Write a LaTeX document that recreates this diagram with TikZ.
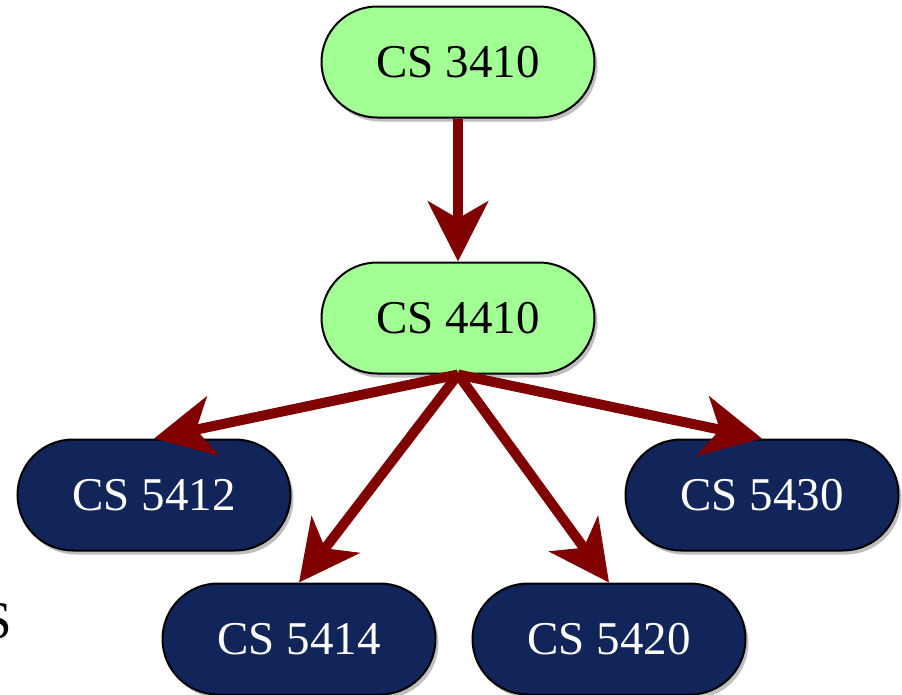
\documentclass[tikz,border=0pt]{standalone}
\usepackage{fontspec}
\setmainfont{Liberation Serif}
\usetikzlibrary{shapes.misc,arrows.meta,shadows}
\definecolor{coursegreen}{RGB}{161,255,148}
\definecolor{coursenavy}{RGB}{18,37,90}
\definecolor{linkred}{RGB}{128,0,0}
\tikzset{
  course/.style={rounded rectangle, draw=black, line width=2pt,
    minimum width=273pt, minimum height=111pt, inner sep=0pt,
    font=\fontsize{47}{56}\selectfont,
    drop shadow={shadow xshift=3pt, shadow yshift=-4pt, opacity=0.25, fill=black}},
  core/.style={course, fill=coursegreen, text=black},
  elective/.style={course, fill=coursenavy, text=white},
  link/.style={draw=linkred, line width=10pt,
    -{Stealth[length=60pt, width=60pt, inset=17pt, fill=linkred]}}
}
\begin{document}
\begin{tikzpicture}[x=1pt, y=-1pt]
  \useasboundingbox (0,0) rectangle (902,694);
  \clip (0,0) rectangle (902,694);
  % course nodes
  \node[core] (c3410) at (458,62) {CS 3410};
  \node[core] (c4410) at (458,318) {CS 4410};
  \node[elective] (c5412) at (154,495) {CS 5412};
  \node[elective] (c5430) at (762,495) {CS 5430};
  \node[elective] (c5414) at (299,639) {CS 5414};
  \node[elective] (c5420) at (609,639) {CS 5420};
  % stray letter at the left edge
  \node[anchor=base east, inner sep=0pt, font=\fontsize{53}{60}\selectfont] (edge) at (12,638) {S};
  % prerequisite links
  \draw[link] (c3410.south) -- (c4410.north);
  \draw[link] (c4410.south) -- (c5412.north);
  \draw[link] (c4410.south) -- (c5430.north);
  \draw[link] (c4410.south) -- (c5414.north);
  \draw[link] (c4410.south) -- (c5420.north);
\end{tikzpicture}
\end{document}
